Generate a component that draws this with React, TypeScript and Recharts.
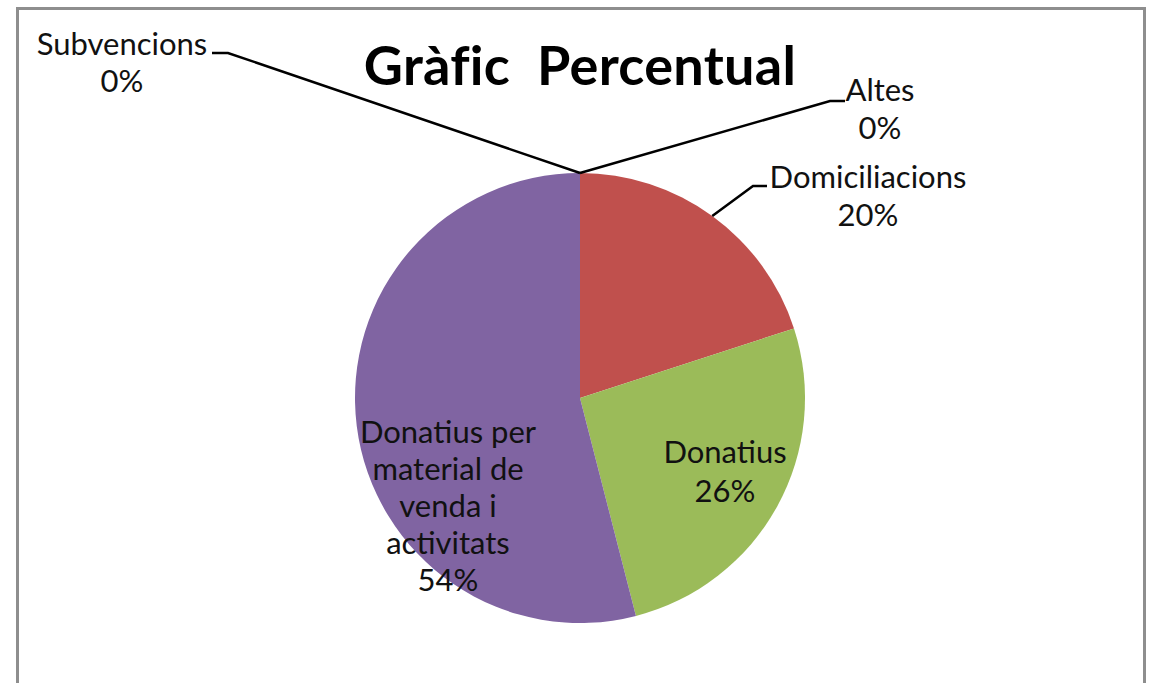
import React from 'react';
import { PieChart, Pie, Cell } from 'recharts';

const names = ['Altes', 'Domiciliacions', 'Donatius', 'Donatius per material de venda i activitats', 'Subvencions'];
const values = [0, 20, 26, 54, 0];
const percentLabels = ['0%', '20%', '26%', '54%', '0%'];
const labelLines = [['Altes'], ['Domiciliacions'], ['Donatius'], ['Donatius per', 'material de', 'venda i', 'activitats'], ['Subvencions']];
const colors = ['#4F81BD', '#C0504D', '#9BBB59', '#8064A2', '#4BACC6'];

const data = names.map((name, i) => ({ name, value: values[i] }));

// label placement, offsets from pie centre
const layout = [
  { x: 300, y: -297, gap: 38, leader: [[250, -297], [265, -297]] },
  { x: 288, y: -210, gap: 38, leader: [[173, -212], [187, -212]] },
  { x: 145, y: 65, gap: 39 },
  { x: -132, y: 45, gap: 37 },
  { x: -458, y: -343, gap: 37, leader: [[-352, -345], [-368, -345]] },
];

const FONT = 'Lato, "Noto Sans", sans-serif';
const RAD = Math.PI / 180;

const renderLabel = (props: any) => {
  const { cx, cy, midAngle, outerRadius, index } = props;
  const l = layout[index];
  const lines = [...labelLines[index], percentLabels[index]];
  let leader = null;
  if (l.leader) {
    const sx = cx + outerRadius * Math.cos(-midAngle * RAD);
    const sy = cy + outerRadius * Math.sin(-midAngle * RAD);
    const pts = [[sx, sy], ...l.leader.map(([dx, dy]) => [cx + dx, cy + dy])];
    leader = (
      <polyline
        points={pts.map((p) => p.join(',')).join(' ')}
        fill="none"
        stroke="#000"
        strokeWidth={2.5}
      />
    );
  }
  return (
    <g key={`lbl-${index}`}>
      {leader}
      <text
        x={cx + l.x}
        y={cy + l.y}
        textAnchor="middle"
        fill="#111"
        fontFamily={FONT}
        fontSize={31}
      >
        {lines.map((t, j) => (
          <tspan key={j} x={cx + l.x} y={cy + l.y + j * l.gap}>
            {t}
          </tspan>
        ))}
      </text>
    </g>
  );
};

export default function App() {
  return (
    <div style={{ position: 'absolute', left: 0, top: 0, width: 1153, height: 683, overflow: 'hidden', background: '#fff' }}>
      <div
        style={{
          position: 'absolute',
          left: 16,
          top: 7,
          width: 1124,
          height: 800,
          border: '3px solid #8e8e8e',
        }}
      />
      <div
        style={{
          position: 'absolute',
          left: 0,
          top: 32,
          width: 1160,
          textAlign: 'center',
          fontFamily: FONT,
          fontWeight: 'bold',
          fontSize: 54,
          letterSpacing: 0.3,
          color: '#000',
          whiteSpace: 'pre',
        }}
      >
        {'Gràfic  Percentual'}
      </div>
      <div style={{ position: 'absolute', left: 0, top: 0 }}>
        <PieChart width={1153} height={683}>
          <Pie
            data={data}
            dataKey="value"
            nameKey="name"
            cx={575}
            cy={393}
            outerRadius={225}
            startAngle={90}
            endAngle={-270}
            stroke="none"
            label={renderLabel}
            labelLine={false}
            isAnimationActive={false}
          >
            {data.map((d, i) => (
              <Cell key={d.name} fill={colors[i]} />
            ))}
          </Pie>
        </PieChart>
      </div>
    </div>
  );
}
